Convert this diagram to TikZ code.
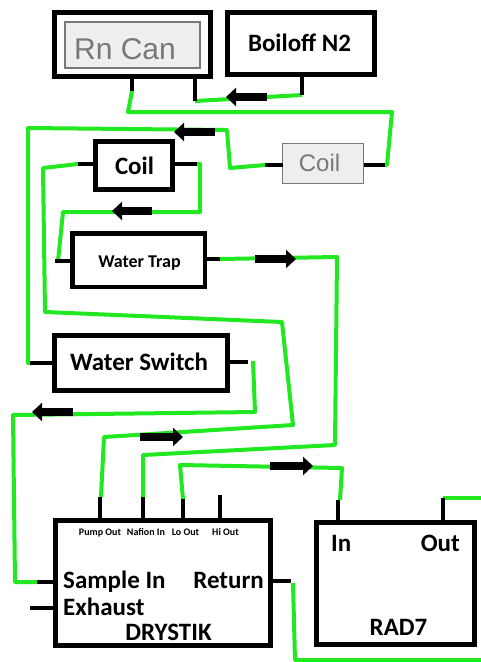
\documentclass[tikz,border=0pt]{standalone}
\usepackage{fontspec}
\setmainfont{Carlito}
\newfontfamily\arialf{Liberation Sans}
\usetikzlibrary{arrows.meta}
\definecolor{pipegreen}{RGB}{34,232,34}
\definecolor{ghostfill}{RGB}{238,238,238}
\definecolor{ghosttext}{RGB}{120,120,120}
\tikzset{
  blk/.style={draw=black, line width=5pt, fill=white, inner sep=0pt, outer sep=0pt},
  ghost/.style={draw=ghosttext, line width=1.3pt, fill=ghostfill, inner sep=0pt, outer sep=0pt},
  lbl/.style={anchor=base, inner sep=0pt, font=\bfseries},
  ghostlbl/.style={anchor=base, inner sep=0pt, text=ghosttext},
  stub/.style={line width=4pt, black},
  pipe/.style={line width=4pt, pipegreen, line join=round},
  flow/.style={line width=8pt, black, -{Triangle[length=10pt,width=18pt]}},
}
\begin{document}
\begin{tikzpicture}[x=1pt,y=-1pt]
\useasboundingbox (0,0) rectangle (481,662);

% boxes
\node[blk, minimum width=156pt, minimum height=64pt] (rn) at (132.5,44.5) {};
\node[ghost, minimum width=135pt, minimum height=46pt] (rnin) at (132.5,45) {};
\node[ghostlbl, font=\arialf\fontsize{30}{30}\selectfont] (rnt) at (125,59) {Rn Can};

\node[blk, minimum width=147pt, minimum height=62pt] (boil) at (301,43.5) {};
\node[lbl, font=\bfseries\fontsize{25}{25}\selectfont] (boilt) at (299.5,51) {Boiloff N2};

\node[ghost, minimum width=81pt, minimum height=40pt] (gcoil) at (323,163.5) {};
\node[ghostlbl, font=\arialf\fontsize{24}{24}\selectfont] (gcoilt) at (319.5,171) {Coil};

\node[blk, minimum width=77pt, minimum height=48pt] (coil) at (134,165.5) {};
\node[lbl, font=\bfseries\fontsize{25}{25}\selectfont] (coilt) at (134.5,174) {Coil};

\node[blk, line width=4.5pt, minimum width=132.5pt, minimum height=53.5pt] (wtrap) at (138.5,260) {};
\node[lbl, font=\bfseries\fontsize{18}{18}\selectfont] (wtrapt) at (139.5,267) {Water Trap};

\node[blk, minimum width=173pt, minimum height=55pt] (wsw) at (141,363) {};
\node[lbl, font=\bfseries\fontsize{25}{25}\selectfont] (wswt) at (139,370) {Water Switch};

\node[blk, minimum width=215pt, minimum height=125pt] (dry) at (163,583) {};
\node[lbl, font=\bfseries\fontsize{10}{10}\selectfont] (po) at (100,535) {Pump Out};
\node[lbl, font=\bfseries\fontsize{10}{10}\selectfont] (ni) at (146,535) {Nafion In};
\node[lbl, font=\bfseries\fontsize{10}{10}\selectfont] (lo) at (185.5,535) {Lo Out};
\node[lbl, font=\bfseries\fontsize{10}{10}\selectfont] (hi) at (225.5,535) {Hi Out};
\node[lbl, anchor=base west, font=\bfseries\fontsize{25}{25}\selectfont] (si) at (63,588) {Sample In};
\node[lbl, anchor=base east, font=\bfseries\fontsize{25}{25}\selectfont] (ret) at (264,588) {Return};
\node[lbl, anchor=base west, font=\bfseries\fontsize{25}{25}\selectfont] (exh) at (63,615) {Exhaust};
\node[lbl, font=\bfseries\fontsize{25}{25}\selectfont] (dryt) at (168.5,640) {DRYSTIK};

\node[blk, minimum width=158pt, minimum height=122pt] (rad) at (395.5,583.5) {};
\node[lbl, anchor=base west, font=\bfseries\fontsize{25}{25}\selectfont] (radin) at (331,551) {In};
\node[lbl, anchor=base east, font=\bfseries\fontsize{25}{25}\selectfont] (radout) at (460,551) {Out};
\node[lbl, font=\bfseries\fontsize{25}{25}\selectfont] (radt) at (398.5,635) {RAD7};

% port ends
\coordinate (rnA) at (132,91);
\coordinate (rnB) at (195,101);
\coordinate (boilP) at (302,95);
\coordinate (gcR) at (385,165);
\coordinate (gcL) at (265,165);
\coordinate (coL) at (78,164);
\coordinate (coR) at (197,164);
\coordinate (wtL) at (55,261);
\coordinate (wtR) at (220,259);
\coordinate (wsL) at (30,363);
\coordinate (wsR) at (248,362);
\coordinate (pump) at (100,497);
\coordinate (naf) at (143,497);
\coordinate (loP) at (183,499);
\coordinate (hiP) at (220,495);
\coordinate (samp) at (37,582);
\coordinate (exP) at (30,608);
\coordinate (retP) at (291,581);
\coordinate (rIn) at (338,500);
\coordinate (rOut) at (443,498);

% pipes (green)
\draw[pipe] (boilP) -- (rnB);
\draw[pipe] (rnA) -- (128,112) -- (392,112) -- (387,165) -- (gcR);
\draw[pipe] (gcL) -- (230,168) -- (227,130) -- (28,128) -- (28,363) -- (wsL);
\draw[pipe] (coL) -- (43,168) -- (45,312) -- (282,322) -- (293,425) -- (104,437) -- (101,497);
\draw[pipe] (coR) -- (200,164) -- (200,212) -- (63,212) -- (58,261) -- (wtL);
\draw[pipe] (wtR) -- (337,257) -- (335,445) -- (143,455) -- (naf);
\draw[pipe] (253,361) -- (255,412) -- (13,415) -- (15,582) -- (samp);
\draw[pipe] (loP) -- (180,465) -- (342,468) -- (340,500);
\draw[pipe] (293,583) -- (295,660) -- (481,660);
\draw[pipe] (rOut) -- (481,498);

% stubs (black)
\draw[stub] (rnA |- rn.south) -- (rnA);
\draw[stub] (rnB |- rn.south) -- (rnB);
\draw[stub] (boilP |- boil.south) -- (boilP);
\draw[stub] (gcoil.east |- gcR) -- (gcR);
\draw[stub] (gcoil.west |- gcL) -- (gcL);
\draw[stub] (coil.west |- coL) -- (coL);
\draw[stub] (coil.east |- coR) -- (coR);
\draw[stub] (wtrap.west |- wtL) -- (wtL);
\draw[stub] (wtrap.east |- wtR) -- (wtR);
\draw[stub] (wsw.west |- wsL) -- (wsL);
\draw[stub] (wsw.east |- wsR) -- (wsR);
\draw[stub] (pump |- dry.north) -- (pump);
\draw[stub] (naf |- dry.north) -- (naf);
\draw[stub] (loP |- dry.north) -- (loP);
\draw[stub] (hiP |- dry.north) -- (hiP);
\draw[stub] (dry.west |- samp) -- (samp);
\draw[stub] (dry.west |- exP) -- (exP);
\draw[stub] (dry.east |- retP) -- (retP);
\draw[stub] (rIn |- rad.north) -- (rIn);
\draw[stub] (rOut |- rad.north) -- (rOut);

% flow arrows
\draw[flow] (267,97) -- (226,97);
\draw[flow] (215,132) -- (174,132);
\draw[flow] (152,211) -- (112,211);
\draw[flow] (255,259) -- (296,259);
\draw[flow] (73,412) -- (32,412);
\draw[flow] (140,437) -- (183,437);
\draw[flow] (270,466) -- (313,466);
\end{tikzpicture}
\end{document}
